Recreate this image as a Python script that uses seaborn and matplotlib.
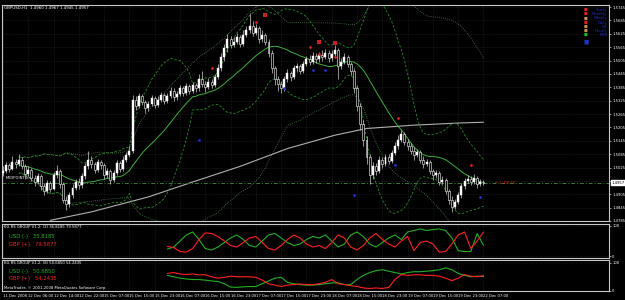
import numpy as np
import pandas as pd
import matplotlib
matplotlib.use("Agg")
import matplotlib.pyplot as plt
import seaborn as sns

# ---------------- data ----------------
close = [1.5010, 1.5035, 1.5020, 1.5050, 1.5040, 1.5060, 1.5030, 1.4995, 1.5015, 1.4980,
         1.4960, 1.4985, 1.4940, 1.4920, 1.4955, 1.4930, 1.4990, 1.5010, 1.4950, 1.4880,
         1.4860, 1.4900, 1.4935, 1.4960, 1.4945, 1.4985, 1.5030, 1.5060, 1.5040, 1.5015,
         1.5050, 1.5035, 1.4990, 1.5010, 1.4970, 1.5000, 1.5045, 1.5020, 1.5060, 1.5080,
         1.5100, 1.5330, 1.5300, 1.5345, 1.5320, 1.5290, 1.5310, 1.5335, 1.5305, 1.5330,
         1.5350, 1.5325, 1.5345, 1.5370, 1.5340, 1.5355, 1.5380, 1.5360, 1.5390, 1.5370,
         1.5395, 1.5380, 1.5420, 1.5400, 1.5385, 1.5410, 1.5395, 1.5430, 1.5470, 1.5520,
         1.5560, 1.5600, 1.5575, 1.5590, 1.5610, 1.5580, 1.5620, 1.5640, 1.5660, 1.5630,
         1.5650, 1.5600, 1.5620, 1.5590, 1.5540, 1.5470, 1.5420, 1.5400, 1.5380, 1.5420,
         1.5450, 1.5430, 1.5470, 1.5480, 1.5460, 1.5490, 1.5510, 1.5500, 1.5525, 1.5510,
         1.5530, 1.5520, 1.5540, 1.5515, 1.5535, 1.5550, 1.5480, 1.5500, 1.5520, 1.5490,
         1.5460, 1.5380, 1.5300, 1.5220, 1.5150, 1.5070, 1.4990, 1.5030, 1.5010, 1.5060,
         1.5040, 1.5070, 1.5055, 1.5090, 1.5120, 1.5150, 1.5175, 1.5140, 1.5120, 1.5100,
         1.5080, 1.5095, 1.5060, 1.5040, 1.5050, 1.5010, 1.4990, 1.5000, 1.4960, 1.4970,
         1.4920, 1.4880, 1.4850, 1.4870, 1.4900, 1.4940, 1.4965, 1.4975, 1.4960, 1.4980,
         1.4950, 1.4960, 1.4957]
high = [1.5030, 1.5050, 1.5045, 1.5075, 1.5065, 1.5085, 1.5070, 1.5040, 1.5030, 1.5025,
        1.4990, 1.5000, 1.4995, 1.4955, 1.4970, 1.4965, 1.5005, 1.5035, 1.5020, 1.4960,
        1.4895, 1.4915, 1.4950, 1.4975, 1.4980, 1.5000, 1.5045, 1.5100, 1.5075, 1.5050,
        1.5065, 1.5060, 1.5045, 1.5025, 1.5020, 1.5015, 1.5060, 1.5055, 1.5075, 1.5095,
        1.5120, 1.5350, 1.5345, 1.5360, 1.5355, 1.5330, 1.5325, 1.5350, 1.5345, 1.5345,
        1.5365, 1.5360, 1.5360, 1.5385, 1.5380, 1.5370, 1.5395, 1.5390, 1.5405, 1.5400,
        1.5410, 1.5405, 1.5445, 1.5460, 1.5415, 1.5425, 1.5420, 1.5445, 1.5490, 1.5540,
        1.5580, 1.5625, 1.5615, 1.5610, 1.5630, 1.5620, 1.5640, 1.5660, 1.5718, 1.5680,
        1.5670, 1.5660, 1.5640, 1.5630, 1.5600, 1.5550, 1.5480, 1.5435, 1.5415, 1.5435,
        1.5465, 1.5460, 1.5485, 1.5495, 1.5490, 1.5505, 1.5525, 1.5530, 1.5545, 1.5540,
        1.5545, 1.5550, 1.5555, 1.5550, 1.5550, 1.5575, 1.5560, 1.5515, 1.5540, 1.5530,
        1.5500, 1.5470, 1.5395, 1.5315, 1.5240, 1.5165, 1.5085, 1.5050, 1.5045, 1.5075,
        1.5070, 1.5085, 1.5085, 1.5105, 1.5140, 1.5170, 1.5195, 1.5185, 1.5155, 1.5135,
        1.5115, 1.5110, 1.5105, 1.5075, 1.5065, 1.5060, 1.5020, 1.5015, 1.5010, 1.4985,
        1.4980, 1.4930, 1.4895, 1.4885, 1.4915, 1.4955, 1.4980, 1.4990, 1.4985, 1.4995,
        1.4985, 1.4975, 1.4967]
low = [1.4985, 1.5000, 1.5005, 1.5015, 1.5025, 1.5030, 1.5020, 1.4975, 1.4985, 1.4965,
       1.4940, 1.4950, 1.4925, 1.4900, 1.4910, 1.4915, 1.4925, 1.4980, 1.4935, 1.4865,
       1.4835, 1.4850, 1.4890, 1.4925, 1.4930, 1.4935, 1.4975, 1.5020, 1.5025, 1.5000,
       1.5005, 1.5020, 1.4975, 1.4980, 1.4950, 1.4960, 1.4990, 1.5005, 1.5010, 1.5050,
       1.5070, 1.5090, 1.5285, 1.5290, 1.5305, 1.5270, 1.5280, 1.5300, 1.5290, 1.5295,
       1.5320, 1.5310, 1.5315, 1.5335, 1.5325, 1.5330, 1.5345, 1.5345, 1.5350, 1.5355,
       1.5360, 1.5365, 1.5370, 1.5385, 1.5365, 1.5375, 1.5380, 1.5385, 1.5420, 1.5460,
       1.5505, 1.5545, 1.5560, 1.5565, 1.5580, 1.5565, 1.5570, 1.5610, 1.5630, 1.5615,
       1.5620, 1.5585, 1.5590, 1.5575, 1.5520, 1.5450, 1.5395, 1.5370, 1.5360, 1.5370,
       1.5410, 1.5415, 1.5420, 1.5455, 1.5445, 1.5450, 1.5480, 1.5485, 1.5490, 1.5495,
       1.5500, 1.5505, 1.5510, 1.5500, 1.5505, 1.5520, 1.5420, 1.5465, 1.5490, 1.5475,
       1.5440, 1.5360, 1.5280, 1.5195, 1.5120, 1.5040, 1.4950, 1.4975, 1.4990, 1.5000,
       1.5025, 1.5030, 1.5040, 1.5045, 1.5080, 1.5110, 1.5140, 1.5125, 1.5105, 1.5085,
       1.5060, 1.5070, 1.5045, 1.5025, 1.5030, 1.4995, 1.4970, 1.4980, 1.4945, 1.4950,
       1.4905, 1.4860, 1.4827, 1.4840, 1.4860, 1.4890, 1.4930, 1.4955, 1.4945, 1.4950,
       1.4935, 1.4940, 1.4945]
first_open = 1.5000

# slow moving average (grey) read at a few bars
slow_ma_bar = [15, 28, 46, 60, 75, 90, 105, 115, 130, 145, 152]
slow_ma_val = [1.4788, 1.4826, 1.4893, 1.4960, 1.5030, 1.5110, 1.5170, 1.5200, 1.5215, 1.5225, 1.5228]

# fractal / signal markers
up_mark_bar = [66, 80, 97, 100, 105, 125, 148]
up_mark_val = [1.5470, 1.5678, 1.5566, 1.5534, 1.5521, 1.5248, 1.5037]
big_mark_bar = [83, 100, 105]
big_mark_val = [1.5709, 1.5588, 1.5584]
dn_mark_bar = [62, 89, 98, 102, 111, 124, 151]
dn_mark_val = [1.5149, 1.5382, 1.5463, 1.5463, 1.4903, 1.5037, 1.4894]

# KG RS group indicator values
rs_bar = list(range(52, 153, 2))
rs1_usd = [23, 30, 50, 70, 80, 55, 25, 20, 30, 45, 60, 70, 55, 35, 30, 50, 70, 75, 60, 45,
           35, 40, 55, 65, 60, 70, 50, 30, 40, 70, 80, 65, 40, 30, 45, 60, 70, 55, 80, 85,
           90, 85, 88, 90, 85, 60, 18, 15, 15, 75, 35.8]
rs1_gbp = [32, 28, 15, 13, 25, 55, 77, 75, 65, 50, 35, 30, 45, 60, 65, 45, 25, 20, 35, 55,
           70, 60, 40, 30, 35, 25, 45, 70, 60, 30, 20, 35, 60, 75, 55, 40, 30, 50, 65, 18,
           45, 50, 40, 13, 15, 40, 70, 80, 25, 50, 79.6]
rs2_usd = [55, 50, 45, 42, 40, 40, 38, 35, 33, 25, 13, 12, 14, 15, 15, 25, 35, 45, 48, 30,
           25, 22, 20, 20, 22, 25, 28, 28, 22, 22, 40, 55, 65, 72, 75, 70, 65, 60, 65, 68,
           68, 70, 72, 75, 82, 75, 62, 55, 50, 52, 50.7]
rs2_gbp = [62, 65, 60, 58, 60, 57, 57, 50, 45, 48, 52, 50, 50, 50, 48, 38, 25, 20, 15, 20,
           22, 24, 22, 22, 25, 30, 40, 25, 22, 18, 15, 10, 8, 10, 8, 12, 40, 58, 55, 57,
           57, 55, 55, 52, 45, 36, 45, 58, 52, 50, 54.2]

price_ticks = [1.5745, 1.5685, 1.5625, 1.5565, 1.5505, 1.5445, 1.5385, 1.5325, 1.5265,
               1.5205, 1.5145, 1.5085, 1.5025, 1.4965, 1.4905, 1.4845, 1.4785]
date_labels = ["11 Dec 2008", "12 Dec 06:00", "12 Dec 14:00", "12 Dec 22:00", "15 Dec 07:00",
               "15 Dec 15:00", "15 Dec 23:00", "16 Dec 07:00", "16 Dec 15:00", "16 Dec 23:00",
               "17 Dec 07:00", "17 Dec 15:00", "17 Dec 23:00", "18 Dec 07:00", "18 Dec 15:00",
               "18 Dec 23:00", "19 Dec 07:00", "19 Dec 15:00", "19 Dec 23:00", "22 Dec 07:00"]
legend_items = ["Yearly", "Monthly", "Weekly", "Daily", "H4", "Hourly", "M30"]
legend_icon_colors = ["#e02020", "#e02020", "#d09050", "#e02020", "#d09050", "#d09050", "#20c020"]

# ---------------- style ----------------
sns.set_style("dark", {"axes.facecolor": "black", "figure.facecolor": "black",
                       "axes.edgecolor": "#c8c8c8", "grid.color": "#2a2a2a"})
plt.rcParams["font.family"] = ["DejaVu Sans"]

n = len(close)
bars = np.arange(n)
opens = [first_open] + close[:-1]
df = pd.DataFrame({"bar": bars, "open": opens, "high": high, "low": low, "close": close})
df["high"] = df[["high", "open", "close"]].max(axis=1)
df["low"] = df[["low", "open", "close"]].min(axis=1)

s = df["close"]
ma20 = s.rolling(20, min_periods=6).mean()
sd20 = s.rolling(20, min_periods=6).std()
ma50 = s.rolling(50, min_periods=6).mean()
sd50 = s.rolling(50, min_periods=6).std()
df["mid"] = ma20
df["bb_up"] = ma20 + 2 * sd20
df["bb_dn"] = ma20 - 2 * sd20
df["env_up"] = ma50 + 2.0 * sd50
df["env_dn"] = ma50 - 2.0 * sd50

fig = plt.figure(figsize=(6.25, 3.0), dpi=100, facecolor="black")
L, W = 2 / 625, 607 / 625
ax = fig.add_axes([L, 1 - 221 / 300, W, 216 / 300])
ax1 = fig.add_axes([L, 1 - 258 / 300, W, 34 / 300])
ax2 = fig.add_axes([L, 1 - 291 / 300, W, 31 / 300])

XMIN, XMAX = -0.3, 191.7
YMIN, YMAX = 1.4785, 1.5754
tick_bars = list(range(0, 153, 8))
FS = 2.7

for a in (ax, ax1, ax2):
    a.set_facecolor("black")
    a.set_xlim(XMIN, XMAX)
    for sp in a.spines.values():
        sp.set_color("#c8c8c8")
        sp.set_linewidth(0.8)
    a.set_xticks(tick_bars)
    a.grid(True, color="#3a3a3a", linestyle=(0, (1, 2)), linewidth=0.4)
    a.yaxis.tick_right()
    a.tick_params(axis="y", colors="white", labelsize=FS, length=1.5, width=0.4, pad=0.8)
    a.tick_params(axis="x", colors="white", labelsize=FS, length=1.5, width=0.4, pad=0.8)

# ---- main panel overlays ----
line_kw = dict(legend=False, ax=ax)
sns.lineplot(data=df, x="bar", y="env_up", color="#4f7f4f", linewidth=0.6, linestyle=(0, (1, 1.5)), **line_kw)
sns.lineplot(data=df, x="bar", y="env_dn", color="#4f7f4f", linewidth=0.6, linestyle=(0, (1, 1.5)), **line_kw)
sns.lineplot(x=slow_ma_bar, y=slow_ma_val, color="#b0b0b0", linewidth=0.8, **line_kw)
sns.lineplot(data=df, x="bar", y="bb_up", color="#2a8a2a", linewidth=0.6, linestyle=(0, (3, 2)), **line_kw)
sns.lineplot(data=df, x="bar", y="bb_dn", color="#2a8a2a", linewidth=0.6, linestyle=(0, (3, 2)), **line_kw)
sns.lineplot(data=df, x="bar", y="mid", color="#3cb03c", linewidth=0.7, **line_kw)

# candles
ax.vlines(df["bar"], df["low"], df["high"], color="#d0d0d0", linewidth=0.5, zorder=3)
up = df[df["close"] >= df["open"]]
dn = df[df["close"] < df["open"]]
ax.bar(up["bar"], (up["close"] - up["open"]).clip(lower=0.00008), bottom=up["open"],
       width=0.62, color="white", edgecolor="white", linewidth=0.3, zorder=4)
ax.bar(dn["bar"], dn["close"] - dn["open"], bottom=dn["open"],
       width=0.62, color="black", edgecolor="white", linewidth=0.4, zorder=4)

# markers
sns.scatterplot(x=up_mark_bar, y=up_mark_val, color="#e02020", s=4, linewidth=0, ax=ax, zorder=5, legend=False)
sns.scatterplot(x=big_mark_bar, y=big_mark_val, color="#c82020", s=6, marker="s", linewidth=0, ax=ax, zorder=5, legend=False)
sns.scatterplot(x=dn_mark_bar, y=dn_mark_val, color="#2030d0", s=4, linewidth=0, ax=ax, zorder=5, legend=False)

# current price line
ax.axhline(close[-1], color="#3c7a3c", linewidth=0.7, linestyle=(0, (4, 2, 1, 2)), zorder=2)
ax.text(1, close[-1] + 0.0012, "MIDPOINT line", color="white", fontsize=2.7, va="bottom", ha="left")
ax.text(155.5, close[-1], "\u2190 1.49578", color="#d02020", fontsize=2.7, va="center", ha="left")

ax.set_ylim(YMIN, YMAX)
ax.set_yticks(price_ticks)
ax.set_yticklabels(["" if abs(v - 1.4965) < 1e-6 else f"{v:.4f}" for v in price_ticks])
ax.set_xticklabels([])
ax.text(XMAX + 0.9, close[-1], f"{close[-1]:.4f}", color="black", fontsize=FS,
        va="center", ha="left", bbox=dict(boxstyle="square,pad=0.12", fc="white", ec="white"),
        clip_on=False, zorder=6)
ax.text(0.003, 0.995, "GBPUSD,H1  1.4960 1.4967 1.4945 1.4957", transform=ax.transAxes,
        color="white", fontsize=2.9, va="top", ha="left")

# top-right legend
for k, (lbl, c) in enumerate(zip(legend_items, legend_icon_colors)):
    yy = 0.985 - k * 0.019
    ax.text(0.962, yy, "\u25A0", transform=ax.transAxes, color=c, fontsize=2.8, va="top", ha="center")
    ax.text(0.997, yy, lbl, transform=ax.transAxes, color="#2030c0", fontsize=2.7, va="top", ha="right")
ax.text(0.962, 0.84, "\u25A0", transform=ax.transAxes, color="#2030c0", fontsize=4.0, va="top", ha="center")

# ---- RS panel 1 ----
sns.lineplot(x=rs_bar, y=rs1_usd, color="#22b022", linewidth=0.8, ax=ax1, legend=False)
sns.lineplot(x=rs_bar, y=rs1_gbp, color="#ff2020", linewidth=0.8, ax=ax1, legend=False)
ax1.set_ylim(-6.5, 106.5)
ax1.set_yticks([0, 100])
ax1.set_yticklabels(["0", "100"])
ax1.set_xticklabels([])
ax1.set_xlabel("")
ax1.set_ylabel("")
ax1.text(0.003, 0.97, "KG RS GROUP V1.2: (2) 36.8185 79.5877", transform=ax1.transAxes,
         color="white", fontsize=2.7, va="top", ha="left")
ax1.text(0.012, 0.72, "USD (-)   35.8185", transform=ax1.transAxes, color="#22b022", fontsize=3.8, va="top", ha="left")
ax1.text(0.012, 0.48, "GBP (+)   79.5877", transform=ax1.transAxes, color="#ff2020", fontsize=3.8, va="top", ha="left")

# ---- RS panel 2 ----
sns.lineplot(x=rs_bar, y=rs2_usd, color="#22b022", linewidth=0.8, ax=ax2, legend=False)
sns.lineplot(x=rs_bar, y=rs2_gbp, color="#ff2020", linewidth=0.8, ax=ax2, legend=False)
ax2.set_ylim(-1, 110)
ax2.set_yticks([0, 100])
ax2.set_yticklabels(["0", "100"])
ax2.set_xticklabels(date_labels, ha="left")
ax2.set_xlabel("")
ax2.set_ylabel("")
ax2.text(0.003, 0.97, "KG RS GROUP V1.2: (8) 50.6850 54.2435", transform=ax2.transAxes,
         color="white", fontsize=2.7, va="top", ha="left")
ax2.text(0.012, 0.72, "USD (-)   50.6850", transform=ax2.transAxes, color="#22b022", fontsize=3.8, va="top", ha="left")
ax2.text(0.012, 0.48, "GBP (+)   54.2435", transform=ax2.transAxes, color="#ff2020", fontsize=3.8, va="top", ha="left")
ax2.text(0.003, 0.04, "MetaTrader, \u00a9 2001-2008 MetaQuotes Software Corp.", transform=ax2.transAxes,
         color="white", fontsize=2.7, va="bottom", ha="left")

ax.set_xlabel("")
ax.set_ylabel("")
fig.savefig("out.png", dpi=100, facecolor="black")
